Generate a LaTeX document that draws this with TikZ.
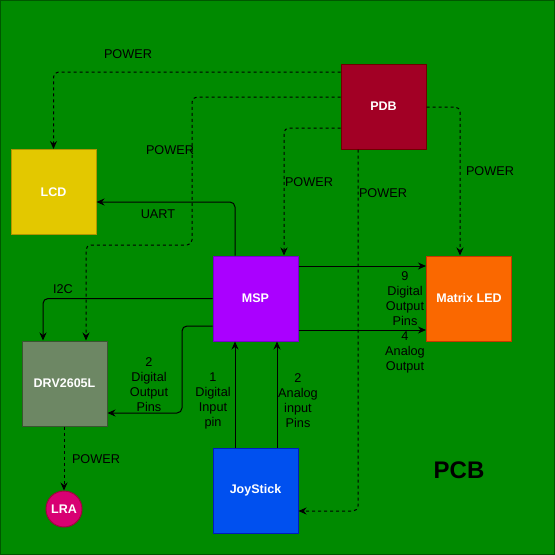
\documentclass[tikz,border=0pt]{standalone}
\usepackage{fontspec}
\setmainfont{Liberation Sans}
\usetikzlibrary{arrows.meta}
\definecolor{pcbfill}{HTML}{008A00}
\definecolor{pcbline}{HTML}{005700}
\tikzset{
  blk/.style={draw, line width=1pt, minimum width=85pt, minimum height=85pt, inner sep=0pt, text=white, font=\fontsize{12.5}{14}\selectfont\bfseries},
  lbl/.style={inner sep=0pt, align=center, font=\fontsize{12.7}{15}\selectfont},
  wire/.style={-{Stealth[length=8pt,width=7pt]}, line width=1pt, rounded corners=5pt},
  pwr/.style={wire, dash pattern=on 3pt off 3pt},
}
\begin{document}
\begin{tikzpicture}[x=1pt,y=-1pt]
    \useasboundingbox (0,0) rectangle (555,555);
    \draw[fill=pcbfill, draw=pcbline, line width=1pt] (0.5,0.5) rectangle (554.5,554.5);
    \node[blk, fill={rgb,255:red,162;green,0;blue,37}, draw={rgb,255:red,111;green,0;blue,0}] (PDB) at (383.5,106.5) {PDB};
    \node[blk, fill={rgb,255:red,227;green,200;blue,0}, draw={rgb,255:red,176;green,149;blue,0}] (LCD) at (53.5,192) {LCD};
    \node[blk, fill={rgb,255:red,170;green,0;blue,255}, draw={rgb,255:red,119;green,0;blue,204}] (MSP) at (255.5,298.5) {MSP};
    \node[blk, fill={rgb,255:red,250;green,104;blue,0}, draw={rgb,255:red,199;green,53;blue,0}] (LED) at (469,298.5) {Matrix LED};
    \node[blk, fill={rgb,255:red,109;green,135;blue,100}, draw={rgb,255:red,58;green,84;blue,49}] (DRV) at (64.5,383.5) {DRV2605L};
    \node[blk, fill={rgb,255:red,0;green,80;blue,239}, draw={rgb,255:red,0;green,29;blue,188}] (JOY) at (255.5,490.5) {JoyStick};
    \node[blk, circle, minimum size=36pt, fill={rgb,255:red,216;green,0;blue,115}, draw={rgb,255:red,165;green,0;blue,64}] (LRA) at (64,509) {LRA};
    \node[lbl] (p1) at (128,54) {POWER};
    \node[lbl] (p2) at (170,150) {POWER};
    \node[lbl] (p3) at (309,182) {POWER};
    \node[lbl] (p4) at (383,193) {POWER};
    \node[lbl] (p5) at (490,171) {POWER};
    \node[lbl] (p6) at (96,459) {POWER};
    \node[lbl] (l1) at (158,214) {UART};
    \node[lbl] (l2) at (63,289) {I2C};
    \node[lbl] (l3) at (149,384.5) {2\\Digital\\Output\\Pins};
    \node[lbl] (l4) at (213,400.5) {1\\Digital\\Input\\pin};
    \node[lbl] (l5) at (298,400.5) {2\\Analog\\input\\Pins};
    \node[lbl] (l6) at (405,298.5) {9\\Digital\\Output\\Pins};
    \node[lbl] (l7) at (405,352) {4\\Analog\\Output};
    \node[lbl, font=\fontsize{24}{28}\selectfont\bfseries] (pcb) at (459,470) {PCB};
    \draw[pwr] (PDB.west |- 0,72) -| (LCD.north);
    \draw[pwr] (PDB.west |- 0,97) -| (192,245) -| (DRV.north -| 86,0);
    \draw[pwr] (PDB.west |- 0,128) -| (MSP.north -| 284,0);
    \draw[pwr] (PDB.east |- 0,107) -| (LED.north -| 460,0);
    \draw[pwr] (PDB.south -| 358,0) |- (JOY.east |- 0,511);
    \draw[pwr] (DRV.south -| 64,0) -- (LRA.north);
    \draw[wire] (MSP.north -| 235,0) |- (LCD.east |- 0,202);
    \draw[wire] (MSP.west) -| (DRV.north -| 43,0);
    \draw[wire] (MSP.west |- 0,326) -| (182,413) -- (DRV.east |- 0,413);
    \draw[wire] (JOY.north -| 235,0) -- (MSP.south -| 235,0);
    \draw[wire] (JOY.north -| 277,0) -- (MSP.south -| 277,0);
    \draw[wire] (MSP.east |- 0,266) -- (LED.west |- 0,266);
    \draw[wire] (MSP.east |- 0,330) -- (LED.west |- 0,330);
\end{tikzpicture}
\end{document}
